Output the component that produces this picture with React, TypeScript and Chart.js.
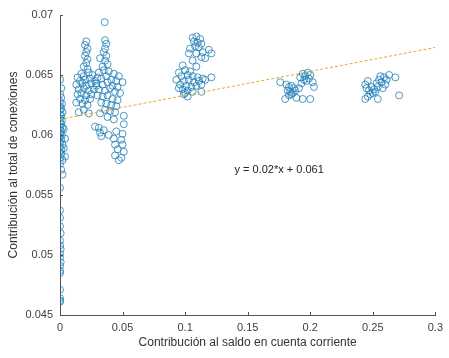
import { useEffect, useRef } from "react";
import { Chart, registerables } from "chart.js";

Chart.register(...registerables);

const FONT = '"Liberation Sans", Arial, Helvetica, sans-serif';

const xTicks = [0, 0.05, 0.1, 0.15, 0.2, 0.25, 0.3];
const yTicks = [0.045, 0.05, 0.055, 0.06, 0.065, 0.07];
const xTitle = "Contribución al saldo en cuenta corriente";
const yTitle = "Contribución al total de conexiones";
const equation = "y = 0.02*x + 0.061";

const fitX = [0, 0.3];
const fitY = [0.0613, 0.0673];

const clusterZero: [number, number][] = [
  [0, 0.0646], [0.001, 0.0639], [0, 0.0634], [0.001, 0.0631], [0, 0.0628], [0.0015, 0.0626],
  [0, 0.0624], [0.001, 0.0622], [0, 0.0621], [0.002, 0.0619], [0, 0.0617], [0.001, 0.0616],
  [0, 0.0614], [0.0015, 0.0612], [0, 0.0611], [0.001, 0.0609], [0, 0.0607], [0.002, 0.0606],
  [0, 0.0604], [0.001, 0.0603], [0, 0.0601], [0.0015, 0.06], [0, 0.0598], [0.001, 0.0596],
  [0, 0.0594], [0.002, 0.0592], [0, 0.059], [0.001, 0.0588], [0, 0.0586], [0.001, 0.0584],
  [0.0005, 0.0581], [0.002, 0.0579], [0, 0.0576], [0.001, 0.0571], [0.002, 0.0567],
  [0.003, 0.0605], [0.004, 0.0597], [0.003, 0.0589], [0.004, 0.0582],
  [0, 0.0556], [0, 0.0537], [0, 0.0531], [0, 0.0524], [0.0005, 0.0518], [0, 0.0512],
  [0, 0.0508], [0.0005, 0.0505], [0, 0.0501], [0, 0.0498], [0.0005, 0.0494], [0, 0.0491],
  [0, 0.0487], [0, 0.0485], [0, 0.0471], [0, 0.0464], [0, 0.0462], [0, 0.0461],
];

const clusterLeftTower: [number, number][] = [
  [0.021, 0.0678], [0.02, 0.0675], [0.022, 0.0672], [0.021, 0.0669], [0.02, 0.0666],
  [0.022, 0.0663], [0.021, 0.066], [0.019, 0.0657], [0.022, 0.0655],
  [0.014, 0.0648], [0.017, 0.0651], [0.019, 0.0649], [0.023, 0.0652], [0.026, 0.065],
  [0.016, 0.0645], [0.02, 0.0646], [0.024, 0.0647], [0.028, 0.0645], [0.013, 0.0642],
  [0.018, 0.0643], [0.021, 0.0641], [0.025, 0.0643], [0.029, 0.0641], [0.015, 0.0638],
  [0.019, 0.0639], [0.023, 0.0637], [0.027, 0.0638], [0.014, 0.0634], [0.017, 0.0635],
  [0.021, 0.0633], [0.025, 0.0634], [0.016, 0.063], [0.02, 0.0629], [0.024, 0.063],
  [0.013, 0.0627], [0.018, 0.0626], [0.022, 0.0625], [0.019, 0.0621], [0.015, 0.0619],
  [0.023, 0.0618],
];

const clusterRightTower: [number, number][] = [
  [0.0357, 0.0694],
  [0.036, 0.0679], [0.037, 0.0676], [0.036, 0.0672], [0.035, 0.0669], [0.037, 0.0666],
  [0.032, 0.0664], [0.036, 0.0662], [0.038, 0.0659], [0.034, 0.0657],
  [0.031, 0.0652], [0.035, 0.0654], [0.039, 0.0653], [0.043, 0.0651], [0.047, 0.0649],
  [0.03, 0.0648], [0.033, 0.0647], [0.037, 0.0649], [0.041, 0.0646], [0.045, 0.0645],
  [0.05, 0.0644], [0.029, 0.0643], [0.034, 0.0642], [0.038, 0.0644], [0.042, 0.0641],
  [0.046, 0.064], [0.031, 0.0638], [0.036, 0.0637], [0.04, 0.0639], [0.044, 0.0636],
  [0.048, 0.0635], [0.03, 0.0633], [0.034, 0.0632], [0.038, 0.0633], [0.042, 0.063],
  [0.046, 0.0629], [0.033, 0.0627], [0.037, 0.0626], [0.041, 0.0625], [0.045, 0.0624],
  [0.036, 0.0621], [0.04, 0.062], [0.044, 0.0619], [0.032, 0.0618], [0.051, 0.0616],
  [0.038, 0.0615], [0.043, 0.0613], [0.051, 0.0609],
  [0.028, 0.0607], [0.031, 0.0606], [0.035, 0.0604], [0.032, 0.0602], [0.039, 0.06],
  [0.033, 0.0599], [0.045, 0.0603], [0.05, 0.0601], [0.043, 0.0597], [0.049, 0.0596],
  [0.044, 0.0592], [0.05, 0.0592], [0.046, 0.0588], [0.051, 0.0586], [0.044, 0.0583],
  [0.049, 0.0581], [0.047, 0.0579],
];

const clusterTenth: [number, number][] = [
  [0.106, 0.0681], [0.109, 0.0682], [0.112, 0.068], [0.107, 0.0678], [0.11, 0.0677],
  [0.113, 0.0676], [0.108, 0.0674], [0.111, 0.0673], [0.104, 0.0672], [0.119, 0.0671],
  [0.114, 0.0669], [0.121, 0.0668], [0.103, 0.0668], [0.109, 0.0668], [0.113, 0.0665],
  [0.106, 0.0662], [0.116, 0.0664], [0.098, 0.0658], [0.109, 0.0657],
  [0.095, 0.0652], [0.1, 0.0654], [0.104, 0.0653], [0.097, 0.0649], [0.102, 0.065],
  [0.106, 0.0649], [0.11, 0.0648], [0.114, 0.0647], [0.121, 0.0648], [0.093, 0.0646],
  [0.099, 0.0645], [0.103, 0.0646], [0.107, 0.0644], [0.111, 0.0645], [0.116, 0.0646],
  [0.096, 0.0642], [0.101, 0.0641], [0.105, 0.064], [0.109, 0.0641], [0.113, 0.0642],
  [0.098, 0.0638], [0.102, 0.0637], [0.106, 0.0636], [0.1, 0.0635], [0.099, 0.0634],
  [0.113, 0.0636], [0.102, 0.0632], [0.095, 0.0639],
];

const clusterFifth: [number, number][] = [
  [0.176, 0.0644], [0.181, 0.0642], [0.183, 0.064], [0.185, 0.0641], [0.187, 0.0639],
  [0.182, 0.0637], [0.184, 0.0636], [0.186, 0.0635], [0.188, 0.0637], [0.183, 0.0633],
  [0.185, 0.0634], [0.192, 0.0648], [0.194, 0.0651], [0.196, 0.0649], [0.198, 0.0652],
  [0.2, 0.065], [0.195, 0.0646], [0.197, 0.0645], [0.199, 0.0647], [0.202, 0.0644],
  [0.193, 0.0643], [0.203, 0.064], [0.191, 0.0639], [0.18, 0.063], [0.189, 0.0631],
  [0.194, 0.063], [0.2, 0.063],
];

const clusterQuarter: [number, number][] = [
  [0.244, 0.0642], [0.246, 0.0645], [0.245, 0.0639], [0.247, 0.0637], [0.249, 0.064],
  [0.251, 0.0638], [0.248, 0.0634], [0.25, 0.0635], [0.252, 0.0636], [0.254, 0.064],
  [0.246, 0.0632], [0.253, 0.0643], [0.255, 0.0646], [0.257, 0.0644], [0.259, 0.0648],
  [0.261, 0.0646], [0.263, 0.065], [0.256, 0.0649], [0.26, 0.0642], [0.268, 0.0648],
  [0.244, 0.063], [0.254, 0.063], [0.271, 0.0633], [0.258, 0.0639],
];

const allPoints = [
  ...clusterZero,
  ...clusterLeftTower,
  ...clusterRightTower,
  ...clusterTenth,
  ...clusterFifth,
  ...clusterQuarter,
];

const fmt = (v: number) => String(+Number(v).toFixed(3));

const decorPlugin = {
  id: "decor",
  afterDraw(chart: any) {
    const { ctx, chartArea, scales } = chart;
    const xs = scales.x;
    const ys = scales.y;
    ctx.save();
    ctx.strokeStyle = "#555";
    ctx.lineWidth = 1;
    ctx.beginPath();
    for (const v of xTicks) {
      const px = Math.round(xs.getPixelForValue(v)) + 0.5;
      ctx.moveTo(px, chartArea.bottom);
      ctx.lineTo(px, chartArea.bottom - 3);
    }
    for (const v of yTicks) {
      const py = Math.round(ys.getPixelForValue(v)) + 0.5;
      ctx.moveTo(chartArea.left, py);
      ctx.lineTo(chartArea.left + 3, py);
    }
    ctx.stroke();

    ctx.fillStyle = "#333";
    ctx.font = `12px ${FONT}`;
    ctx.textAlign = "center";
    ctx.textBaseline = "middle";
    ctx.fillText(xTitle, (chartArea.left + chartArea.right) / 2, 343);

    ctx.save();
    ctx.translate(14, (chartArea.top + chartArea.bottom) / 2);
    ctx.rotate(-Math.PI / 2);
    ctx.fillText(yTitle, 0, 0);
    ctx.restore();

    ctx.textAlign = "left";
    ctx.fillStyle = "#222";
    ctx.font = `11px ${FONT}`;
    ctx.fillText(equation, xs.getPixelForValue(0.1395), ys.getPixelForValue(0.0571));
    ctx.restore();
  },
};

export default function App() {
  const ref = useRef<HTMLCanvasElement | null>(null);
  useEffect(() => {
    if (!ref.current) return;
    const chart = new Chart(ref.current, {
      type: "scatter",
      data: {
        datasets: [
          {
            type: "line",
            data: fitX.map((x, i) => ({ x, y: fitY[i] })),
            borderColor: "#E8A82A",
            borderDash: [3, 2],
            borderWidth: 1,
            pointRadius: 0,
            fill: false,
            order: 0,
          } as any,
          {
            type: "scatter",
            data: allPoints.map(([x, y]) => ({ x, y })),
            pointStyle: "circle",
            pointRadius: 3.5,
            borderWidth: 0.8,
            borderColor: "#1f7db8",
            backgroundColor: "rgba(0,0,0,0)",
            order: 1,
          },
        ],
      },
      options: {
        responsive: false,
        animation: false,
        devicePixelRatio: 1,
        layout: { padding: { top: 15, right: 11, left: 0, bottom: 0 } },
        plugins: { legend: { display: false }, tooltip: { enabled: false } },
        scales: {
          x: {
            type: "linear",
            position: "bottom",
            min: 0,
            max: 0.3,
            grid: { display: false, drawTicks: false },
            border: { display: true, color: "#555", width: 1 },
            ticks: {
              font: { family: FONT, size: 11 },
              color: "#404040",
              padding: 6,
              maxRotation: 0,
              autoSkip: false,
              callback: (v: any) => fmt(v),
            },
            afterBuildTicks: (s: any) => {
              s.ticks = xTicks.map((value) => ({ value }));
            },
            afterFit: (s: any) => {
              s.height = 43;
            },
          },
          y: {
            type: "linear",
            position: "left",
            min: 0.045,
            max: 0.07,
            grid: { display: false, drawTicks: false },
            border: { display: true, color: "#555", width: 1 },
            ticks: {
              font: { family: FONT, size: 11 },
              color: "#404040",
              padding: 7,
              autoSkip: false,
              callback: (v: any) => fmt(v),
            },
            afterBuildTicks: (s: any) => {
              s.ticks = yTicks.map((value) => ({ value }));
            },
            afterFit: (s: any) => {
              s.width = 60;
            },
          },
        },
      } as any,
      plugins: [decorPlugin],
    });
    return () => chart.destroy();
  }, []);
  return (
    <div style={{ position: "fixed", left: 0, top: 0, width: 449, height: 358, background: "#fff" }}>
      <canvas ref={ref} width={449} height={358} style={{ display: "block" }} />
    </div>
  );
}
